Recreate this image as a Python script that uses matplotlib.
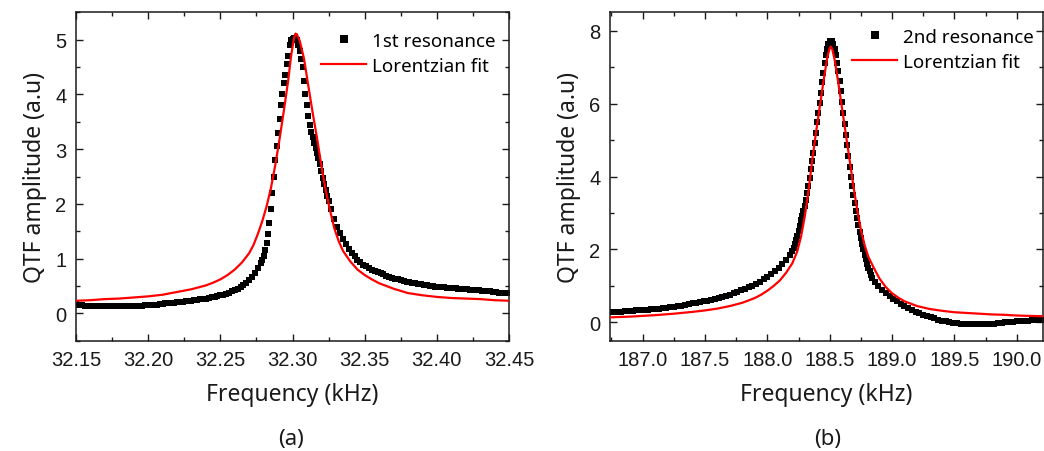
import numpy as np
import matplotlib
matplotlib.use("Agg")
import matplotlib.pyplot as plt
from matplotlib.ticker import MultipleLocator, FormatStrFormatter

# ---------------- Panel (a): 1st resonance ----------------
a_x_seg1 = np.round(np.arange(32.150, 32.2781, 0.002), 4)
a_y_seg1 = [0.18, 0.16, 0.15, 0.14, 0.14, 0.14, 0.13, 0.13, 0.13, 0.13,
            0.13, 0.13, 0.13, 0.13, 0.13, 0.13, 0.13, 0.13, 0.13, 0.13,
            0.14, 0.14, 0.14, 0.14, 0.15, 0.15, 0.15, 0.16, 0.16, 0.17,
            0.17, 0.18, 0.18, 0.19, 0.19, 0.20, 0.21, 0.21, 0.22, 0.23,
            0.23, 0.24, 0.25, 0.26, 0.27, 0.27, 0.28, 0.29, 0.30, 0.32,
            0.33, 0.34, 0.36, 0.38, 0.40, 0.42, 0.45, 0.48, 0.51, 0.55,
            0.60, 0.66, 0.73, 0.82, 0.92]
a_x_seg2 = np.round(np.arange(32.279, 32.3251, 0.001), 4)
a_y_seg2 = [0.98, 1.05, 1.15, 1.28, 1.45, 1.65, 1.90, 2.20, 2.50, 2.80,
            3.05, 3.30, 3.55, 3.80, 4.00, 4.20, 4.35, 4.55, 4.70, 4.90,
            5.00, 5.02, 5.03, 5.02, 5.00, 4.90, 4.80, 4.65, 4.50, 4.25,
            4.00, 3.80, 3.60, 3.45, 3.32, 3.22, 3.12, 3.02, 2.93, 2.84,
            2.72, 2.60, 2.48, 2.36, 2.25, 2.15, 2.06]
a_x_seg3 = np.round(np.arange(32.327, 32.4491, 0.002), 4)
a_y_seg3 = [1.90, 1.72, 1.57, 1.46, 1.36, 1.27, 1.18, 1.10, 1.04, 0.98,
            0.93, 0.89, 0.86, 0.83, 0.80, 0.77, 0.75, 0.73, 0.71, 0.69,
            0.67, 0.65, 0.63, 0.62, 0.60, 0.59, 0.58, 0.57, 0.56, 0.55,
            0.54, 0.53, 0.52, 0.51, 0.50, 0.50, 0.49, 0.49, 0.48, 0.48,
            0.47, 0.47, 0.46, 0.46, 0.45, 0.45, 0.44, 0.44, 0.43, 0.43,
            0.42, 0.42, 0.41, 0.41, 0.40, 0.40, 0.39, 0.39, 0.38, 0.38,
            0.38, 0.37]

a_fit_x = [32.150, 32.160, 32.170, 32.180, 32.190, 32.200, 32.210, 32.220,
           32.230, 32.240, 32.245, 32.250, 32.255, 32.260, 32.265, 32.270,
           32.273, 32.276, 32.279, 32.282, 32.285, 32.288, 32.291, 32.294,
           32.297, 32.299, 32.301, 32.302, 32.303, 32.305, 32.308, 32.311,
           32.314, 32.317, 32.320, 32.323, 32.326, 32.329, 32.332, 32.335,
           32.340, 32.345, 32.350, 32.355, 32.360, 32.370, 32.380, 32.390,
           32.400, 32.410, 32.420, 32.430, 32.440, 32.450]
a_fit_y = [0.23, 0.24, 0.26, 0.27, 0.29, 0.31, 0.34, 0.39,
           0.44, 0.51, 0.56, 0.62, 0.70, 0.80, 0.93, 1.10,
           1.25, 1.45, 1.68, 1.95, 2.28, 2.70, 3.18, 3.70,
           4.25, 4.70, 5.02, 5.11, 5.10, 4.98, 4.65, 4.15,
           3.66, 3.20, 2.70, 2.25, 1.88, 1.55, 1.32, 1.14,
           0.95, 0.80, 0.70, 0.62, 0.55, 0.45, 0.37, 0.33,
           0.30, 0.28, 0.27, 0.26, 0.24, 0.23]

# ---------------- Panel (b): 2nd resonance ----------------
b_x_seg1 = np.round(np.arange(186.74, 188.1801, 0.03), 3)
b_y_seg1 = [0.29, 0.29, 0.30, 0.30, 0.31, 0.31, 0.32, 0.33, 0.33, 0.34,
            0.35, 0.36, 0.37, 0.38, 0.39, 0.40, 0.42, 0.43, 0.44, 0.46,
            0.48, 0.50, 0.52, 0.54, 0.56, 0.58, 0.60, 0.62, 0.64, 0.67,
            0.70, 0.73, 0.76, 0.80, 0.84, 0.88, 0.92, 0.97, 1.01, 1.06,
            1.12, 1.18, 1.25, 1.32, 1.40, 1.49, 1.59, 1.70, 1.85]
b_x_seg2 = np.round(np.arange(188.20, 188.8401, 0.01), 3)
b_y_seg2 = [1.95, 2.05, 2.15, 2.26, 2.38, 2.51, 2.65, 2.80, 2.93, 3.06,
            3.20, 3.35, 3.55, 3.75, 3.97, 4.20, 4.42, 4.65, 4.92, 5.20,
            5.48, 5.75, 6.02, 6.30, 6.58, 6.85, 7.10, 7.32, 7.50, 7.62,
            7.70, 7.72, 7.70, 7.62, 7.50, 7.33, 7.12, 6.88, 6.62, 6.35,
            6.05, 5.75, 5.45, 5.15, 4.85, 4.55, 4.27, 4.00, 3.74, 3.50,
            3.28, 3.06, 2.85, 2.66, 2.48, 2.31, 2.15, 2.00, 1.86, 1.73,
            1.61, 1.50, 1.40, 1.31, 1.22]
b_x_seg3 = np.round(np.arange(188.86, 190.2401, 0.03), 3)
b_y_seg3 = [1.10, 0.99, 0.89, 0.80, 0.72, 0.65, 0.58, 0.51, 0.45, 0.39,
            0.34, 0.29, 0.25, 0.21, 0.17, 0.14, 0.11, 0.08, 0.05, 0.03,
            0.01, -0.01, -0.02, -0.03, -0.04, -0.05, -0.05, -0.05, -0.05, -0.05,
            -0.04, -0.04, -0.03, -0.02, -0.01, 0.00, 0.01, 0.02, 0.03, 0.04,
            0.05, 0.05, 0.06, 0.06, 0.07, 0.07, 0.08]

b_fit_x = [186.74, 186.90, 187.00, 187.10, 187.25, 187.40, 187.50, 187.60,
           187.70, 187.80, 187.90, 187.95, 188.00, 188.05, 188.10, 188.15,
           188.20, 188.24, 188.27, 188.30, 188.33, 188.36, 188.39, 188.42,
           188.45, 188.48, 188.50, 188.51, 188.52, 188.54, 188.57, 188.60,
           188.63, 188.66, 188.69, 188.72, 188.75, 188.78, 188.81, 188.85,
           188.90, 188.95, 189.00, 189.05, 189.10, 189.20, 189.30, 189.40,
           189.50, 189.60, 189.70, 189.80, 189.90, 190.00, 190.10, 190.21]
b_fit_y = [0.14, 0.16, 0.18, 0.20, 0.24, 0.29, 0.33, 0.38,
           0.45, 0.54, 0.67, 0.76, 0.87, 1.00, 1.15, 1.36,
           1.62, 1.95, 2.35, 2.90, 3.60, 4.45, 5.20, 5.90,
           6.60, 7.25, 7.52, 7.56, 7.50, 7.20, 6.55, 5.85,
           5.15, 4.45, 3.75, 3.10, 2.55, 2.12, 1.80, 1.52,
           1.20, 0.97, 0.80, 0.68, 0.58, 0.45, 0.37, 0.32,
           0.28, 0.26, 0.24, 0.22, 0.21, 0.19, 0.18, 0.17]

a_x = np.concatenate([a_x_seg1, a_x_seg2, a_x_seg3])
a_y = np.concatenate([a_y_seg1, a_y_seg2, a_y_seg3])
b_x = np.concatenate([b_x_seg1, b_x_seg2, b_x_seg3])
b_y = np.concatenate([b_y_seg1, b_y_seg2, b_y_seg3])

W, H = 1044, 452
fig = plt.figure(figsize=(W / 100, H / 100), dpi=100)

LABEL_FONT = ["Noto Sans", "DejaVu Sans"]
TICK_FONT = ["Liberation Sans", "DejaVu Sans"]
INK = "#1a1a1a"


def px_axes(l, t, r, b):
    return fig.add_axes([l / W, 1 - b / H, (r - l) / W, (b - t) / H])


def style(ax, xmaj, xmin, ymaj, ymin, xfmt, yfmt):
    ax.xaxis.set_major_locator(MultipleLocator(xmaj))
    ax.xaxis.set_minor_locator(MultipleLocator(xmin))
    ax.yaxis.set_major_locator(MultipleLocator(ymaj))
    ax.yaxis.set_minor_locator(MultipleLocator(ymin))
    ax.xaxis.set_major_formatter(FormatStrFormatter(xfmt))
    ax.yaxis.set_major_formatter(FormatStrFormatter(yfmt))
    ax.tick_params(which="both", direction="in", top=True, right=True,
                   width=1.0, color=INK)
    ax.tick_params(which="major", length=5, labelsize=14.5, pad=7)
    ax.tick_params(which="minor", length=3)
    for lab in ax.get_xticklabels() + ax.get_yticklabels():
        lab.set_family(TICK_FONT)
        lab.set_color(INK)
    for s in ax.spines.values():
        s.set_linewidth(1.1)
        s.set_color(INK)
    ax.set_xlabel("Frequency (kHz)", family=LABEL_FONT, fontsize=16.5,
                  color=INK, labelpad=9)
    ax.set_ylabel("QTF amplitude (a.u)", family=LABEL_FONT, fontsize=16.5,
                  color=INK, labelpad=6)


# Panel (a)
ax1 = px_axes(76, 13.3, 509, 341.7)
ax1.plot(a_x, a_y, "s", color="black", markersize=4.4, markeredgewidth=0,
         label="1st resonance", zorder=2)
ax1.plot(a_fit_x, a_fit_y, "-", color="#ff0000", lw=1.6,
         label="Lorentzian fit", zorder=3)
ax1.set_xlim(32.15, 32.45)
ax1.set_ylim(-0.5, 5.5)
style(ax1, 0.05, 0.025, 1, 0.5, "%.2f", "%d")
ax1.legend(loc="upper left", bbox_to_anchor=(321 / W, 1 - 33 / H),
           bbox_transform=fig.transFigure, frameon=False,
           prop={"family": LABEL_FONT, "size": 13.5},
           handlelength=2.4, handletextpad=0.3, borderpad=0,
           borderaxespad=0, labelspacing=0.35, markerscale=1.2)

# Panel (b)
ax2 = px_axes(610, 13.3, 1043, 341.7)
ax2.plot(b_x, b_y, "s", color="black", markersize=4.4, markeredgewidth=0,
         label="2nd resonance", zorder=2)
ax2.plot(b_fit_x, b_fit_y, "-", color="#ff0000", lw=1.6,
         label="Lorentzian fit", zorder=3)
ax2.set_xlim(186.738, 190.211)
ax2.set_ylim(-0.5, 8.5)
style(ax2, 0.5, 0.25, 2, 1, "%.1f", "%d")
ax2.legend(loc="upper left", bbox_to_anchor=(852 / W, 1 - 29 / H),
           bbox_transform=fig.transFigure, frameon=False,
           prop={"family": LABEL_FONT, "size": 13.5},
           handlelength=2.4, handletextpad=0.3, borderpad=0,
           borderaxespad=0, labelspacing=0.35, markerscale=1.2)

fig.text(291 / W, 1 - 440 / H, "(a)", ha="center", va="center",
         family=LABEL_FONT, fontsize=16, color=INK)
fig.text(828 / W, 1 - 440 / H, "(b)", ha="center", va="center",
         family=LABEL_FONT, fontsize=16, color=INK)

fig.savefig("out.png", dpi=100)
